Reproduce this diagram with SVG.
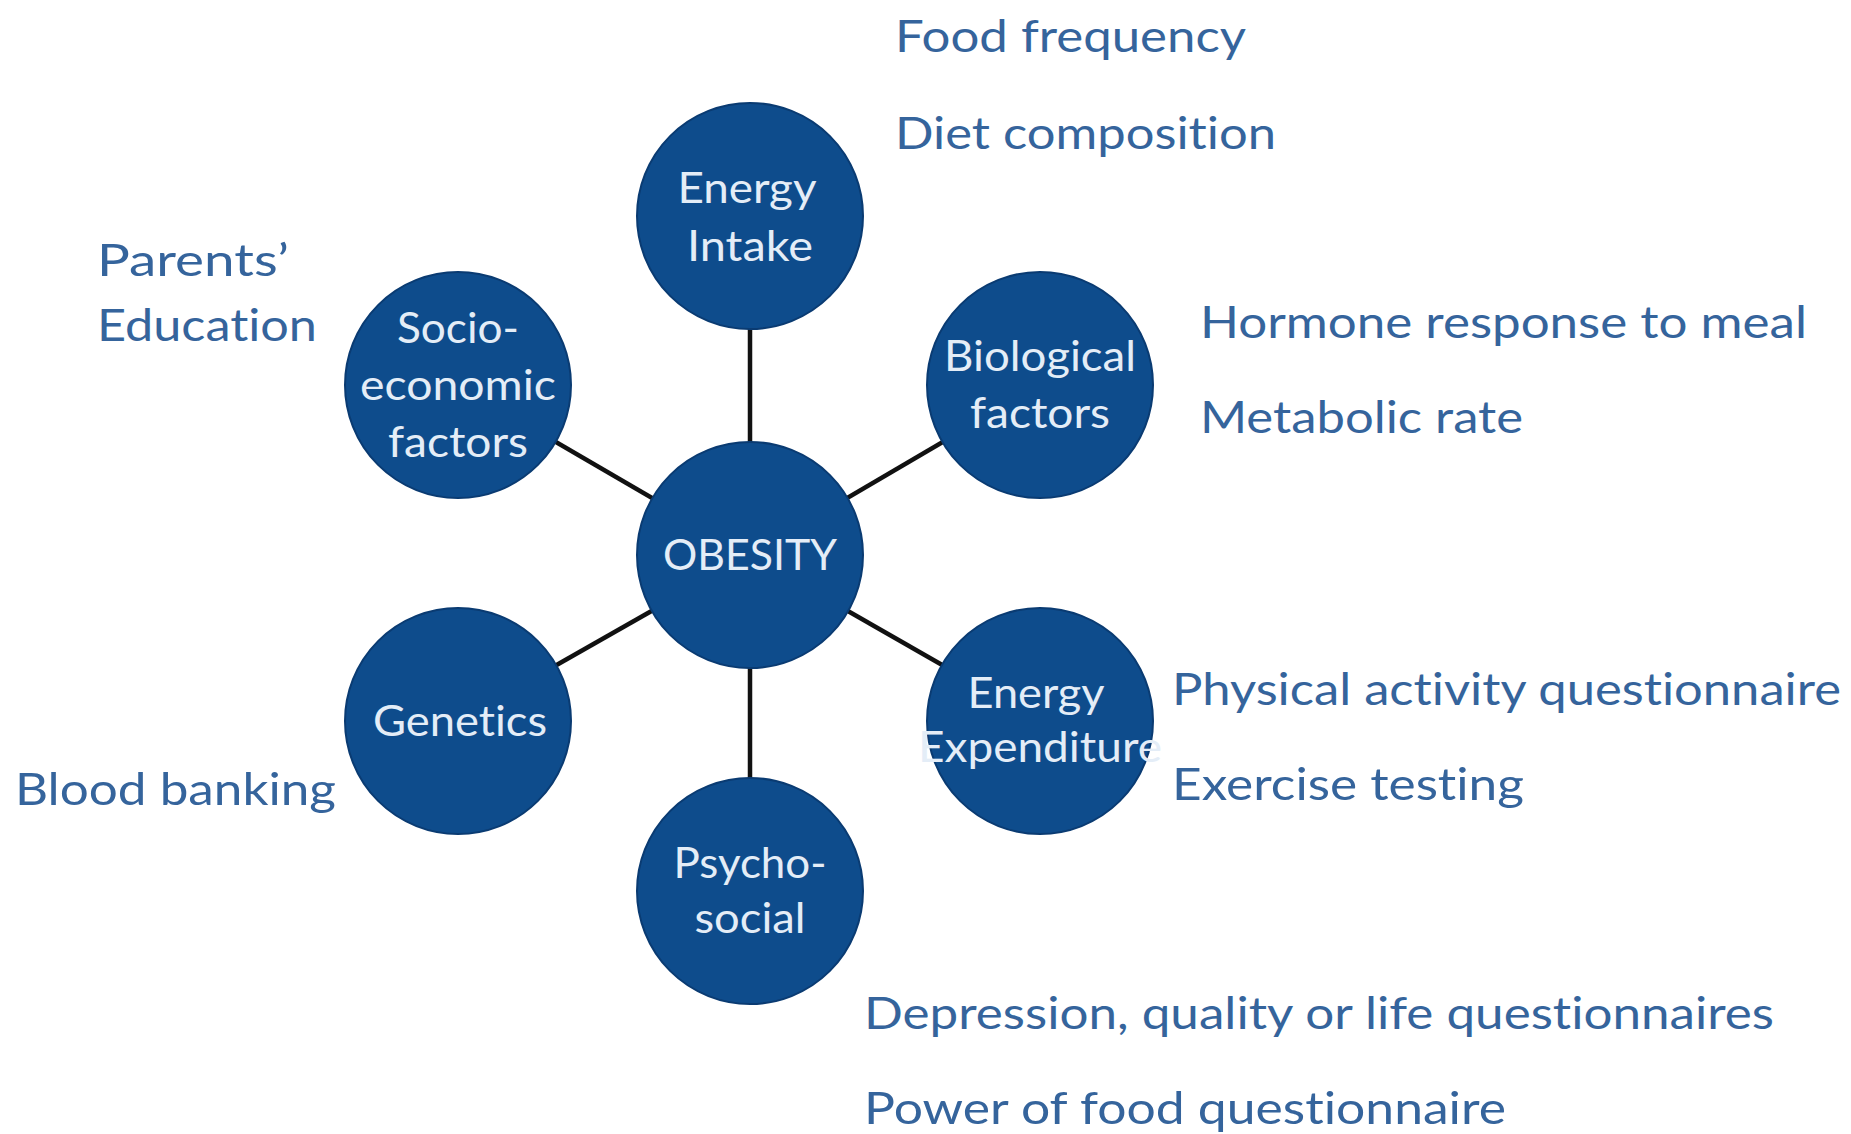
<svg xmlns="http://www.w3.org/2000/svg" width="1851" height="1134" viewBox="0 0 1851 1134">
<style>
.node{fill:#0e4c8c;stroke:#0a3b72;stroke-width:2}
.in{font-family:Lato,"Open Sans",sans-serif;font-size:42px;fill:#e4edf7;text-anchor:middle;font-variant-ligatures:none;font-feature-settings:"liga" 0,"clig" 0,"dlig" 0}
.out{font-family:Lato,"Open Sans",sans-serif;font-size:45px;fill:#35649c;font-variant-ligatures:none;font-feature-settings:"liga" 0,"clig" 0,"dlig" 0}
.edge{stroke:#111;stroke-width:4.5;fill:none}
</style>
<rect width="1851" height="1134" fill="#ffffff"/>
<g id="connectors">
<line class="edge" x1="750" y1="555" x2="750" y2="216"/>
<line class="edge" x1="750" y1="555" x2="1040" y2="385"/>
<line class="edge" x1="750" y1="555" x2="1040" y2="721"/>
<line class="edge" x1="750" y1="555" x2="750" y2="891"/>
<line class="edge" x1="750" y1="555" x2="458" y2="721"/>
<line class="edge" x1="750" y1="555" x2="458" y2="385"/>
</g>
<g id="obesity">
<circle class="node" cx="750" cy="555" r="113"/>
<text class="in" x="750" y="570" textLength="174" lengthAdjust="spacingAndGlyphs">OBESITY</text>
</g>
<g id="energy-intake">
<circle class="node" cx="750" cy="216" r="113"/>
<text class="in" x="747" y="203" textLength="139" lengthAdjust="spacingAndGlyphs">Energy</text>
<text class="in" x="750" y="261" textLength="126" lengthAdjust="spacingAndGlyphs">Intake</text>
</g>
<g id="biological">
<circle class="node" cx="1040" cy="385" r="113"/>
<text class="in" x="1040" y="371" textLength="192" lengthAdjust="spacingAndGlyphs">Biological</text>
<text class="in" x="1040" y="428" textLength="140" lengthAdjust="spacingAndGlyphs">factors</text>
</g>
<g id="energy-expenditure">
<circle class="node" cx="1040" cy="721" r="113"/>
<text class="in" x="1036" y="708" textLength="137" lengthAdjust="spacingAndGlyphs">Energy</text>
<text class="in" x="1040" y="762" textLength="244" lengthAdjust="spacingAndGlyphs">Expenditure</text>
</g>
<g id="psycho-social">
<circle class="node" cx="750" cy="891" r="113"/>
<text class="in" x="750" y="878" textLength="153" lengthAdjust="spacingAndGlyphs">Psycho-</text>
<text class="in" x="750" y="933" textLength="111" lengthAdjust="spacingAndGlyphs">social</text>
</g>
<g id="genetics">
<circle class="node" cx="458" cy="721" r="113"/>
<text class="in" x="460" y="736" textLength="174" lengthAdjust="spacingAndGlyphs">Genetics</text>
</g>
<g id="socio-economic">
<circle class="node" cx="458" cy="385" r="113"/>
<text class="in" x="458" y="343" textLength="122" lengthAdjust="spacingAndGlyphs">Socio-</text>
<text class="in" x="458" y="400" textLength="196" lengthAdjust="spacingAndGlyphs">economic</text>
<text class="in" x="458" y="457" textLength="140" lengthAdjust="spacingAndGlyphs">factors</text>
</g>
<g id="labels">
<text class="out" x="895" y="52" textLength="351" lengthAdjust="spacingAndGlyphs">Food frequency</text>
<text class="out" x="895" y="149" textLength="381" lengthAdjust="spacingAndGlyphs">Diet composition</text>
<text class="out" x="97" y="276" textLength="192" lengthAdjust="spacingAndGlyphs">Parents’</text>
<text class="out" x="97" y="341" textLength="220" lengthAdjust="spacingAndGlyphs">Education</text>
<text class="out" x="1200" y="338" textLength="607" lengthAdjust="spacingAndGlyphs">Hormone response to meal</text>
<text class="out" x="1200" y="433" textLength="323" lengthAdjust="spacingAndGlyphs">Metabolic rate</text>
<text class="out" x="1172" y="705" textLength="669" lengthAdjust="spacingAndGlyphs">Physical activity questionnaire</text>
<text class="out" x="1172" y="800" textLength="352" lengthAdjust="spacingAndGlyphs">Exercise testing</text>
<text class="out" x="15" y="805" textLength="321" lengthAdjust="spacingAndGlyphs">Blood banking</text>
<text class="out" x="864" y="1029" textLength="910" lengthAdjust="spacingAndGlyphs">Depression, quality or life questionnaires</text>
<text class="out" x="864" y="1124" textLength="642" lengthAdjust="spacingAndGlyphs">Power of food questionnaire</text>
</g>
</svg>
